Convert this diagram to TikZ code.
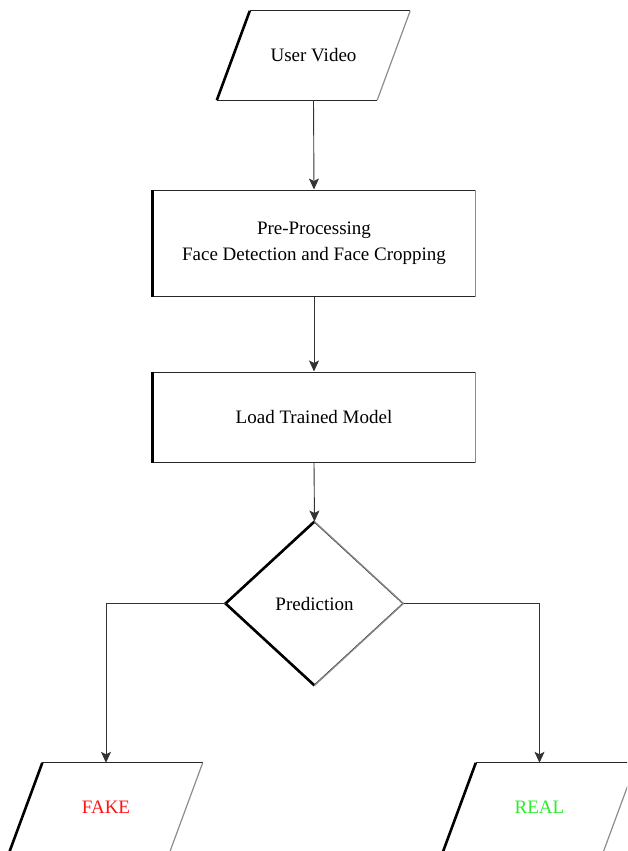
\documentclass[tikz,border=0pt]{standalone}
\usepackage{fontspec}
\setmainfont{Liberation Serif}
\usetikzlibrary{shapes.geometric,arrows.meta}
\definecolor{fakered}{RGB}{255,20,20}
\definecolor{realgreen}{RGB}{45,235,45}
\tikzset{
  box/.style={draw=black!85, line width=1pt, rectangle, minimum width=322pt, inner sep=0pt, align=center, font=\fontsize{19}{26}\selectfont},
  slantbox/.style={rectangle, minimum width=160pt, minimum height=89pt, inner sep=0pt, font=\fontsize{19}{26}\selectfont},
  decide/.style={draw=black!85, line width=1pt, diamond, minimum width=177pt, minimum height=163pt, inner sep=0pt, font=\fontsize{19}{26}\selectfont},
  frameedge/.style={draw=black!85, line width=1pt},
  darkedge/.style={draw=black, line width=2.6pt},
  faintedge/.style={draw=black!45, line width=1.2pt},
  flow/.style={draw=black!80, line width=0.9pt, -{Stealth[length=11pt,width=10pt,inset=2.5pt]}}
}
% parallelogram round a slantbox node
\newcommand\slantframe[1]{
  \draw[frameedge] ([xshift=16.5pt]#1.north west) -- ([xshift=16.5pt]#1.north east);
  \draw[frameedge] ([xshift=-16.5pt]#1.south west) -- ([xshift=-16.5pt]#1.south east);
  \draw[darkedge] ([xshift=-16.5pt]#1.south west) -- ([xshift=16.5pt]#1.north west);
  \draw[faintedge] ([xshift=-16.5pt]#1.south east) -- ([xshift=16.5pt]#1.north east);
}
\begin{document}
\begin{tikzpicture}[x=1pt,y=-1pt]
\useasboundingbox (0,0) rectangle (627,851);
\clip (0,0) rectangle (627,851);
\node[slantbox] (video) at (313.5,55.5) {User Video};
\node[box, minimum height=106pt] (prep) at (314,243) {Pre-Processing\\Face Detection and Face Cropping};
\node[box, minimum height=90pt] (load) at (314,417) {Load Trained Model};
\node[decide] (pred) at (314.5,603.5) {Prediction};
\node[slantbox] (fake) at (106,807.5) {\textcolor{fakered}{FAKE}};
\node[slantbox] (real) at (539.5,807.5) {\textcolor{realgreen}{REAL}};
\slantframe{video}
\slantframe{fake}
\slantframe{real}
% heavier left edges, faint right edges
\draw[darkedge] (prep.north west) -- (prep.south west);
\draw[faintedge] (prep.north east) -- (prep.south east);
\draw[darkedge] (load.north west) -- (load.south west);
\draw[faintedge] (load.north east) -- (load.south east);
\draw[darkedge] (pred.north) -- (pred.west) -- (pred.south);
\draw[faintedge] (pred.north) -- (pred.east) -- (pred.south);
% connectors
\draw[flow] (video.south) -- (prep.north);
\draw[flow] (prep.south) -- (load.north);
\draw[flow] (load.south) -- (pred.north);
\draw[flow] (pred.west) -| (fake.north);
\draw[flow] (pred.east) -| (real.north);
\end{tikzpicture}
\end{document}
